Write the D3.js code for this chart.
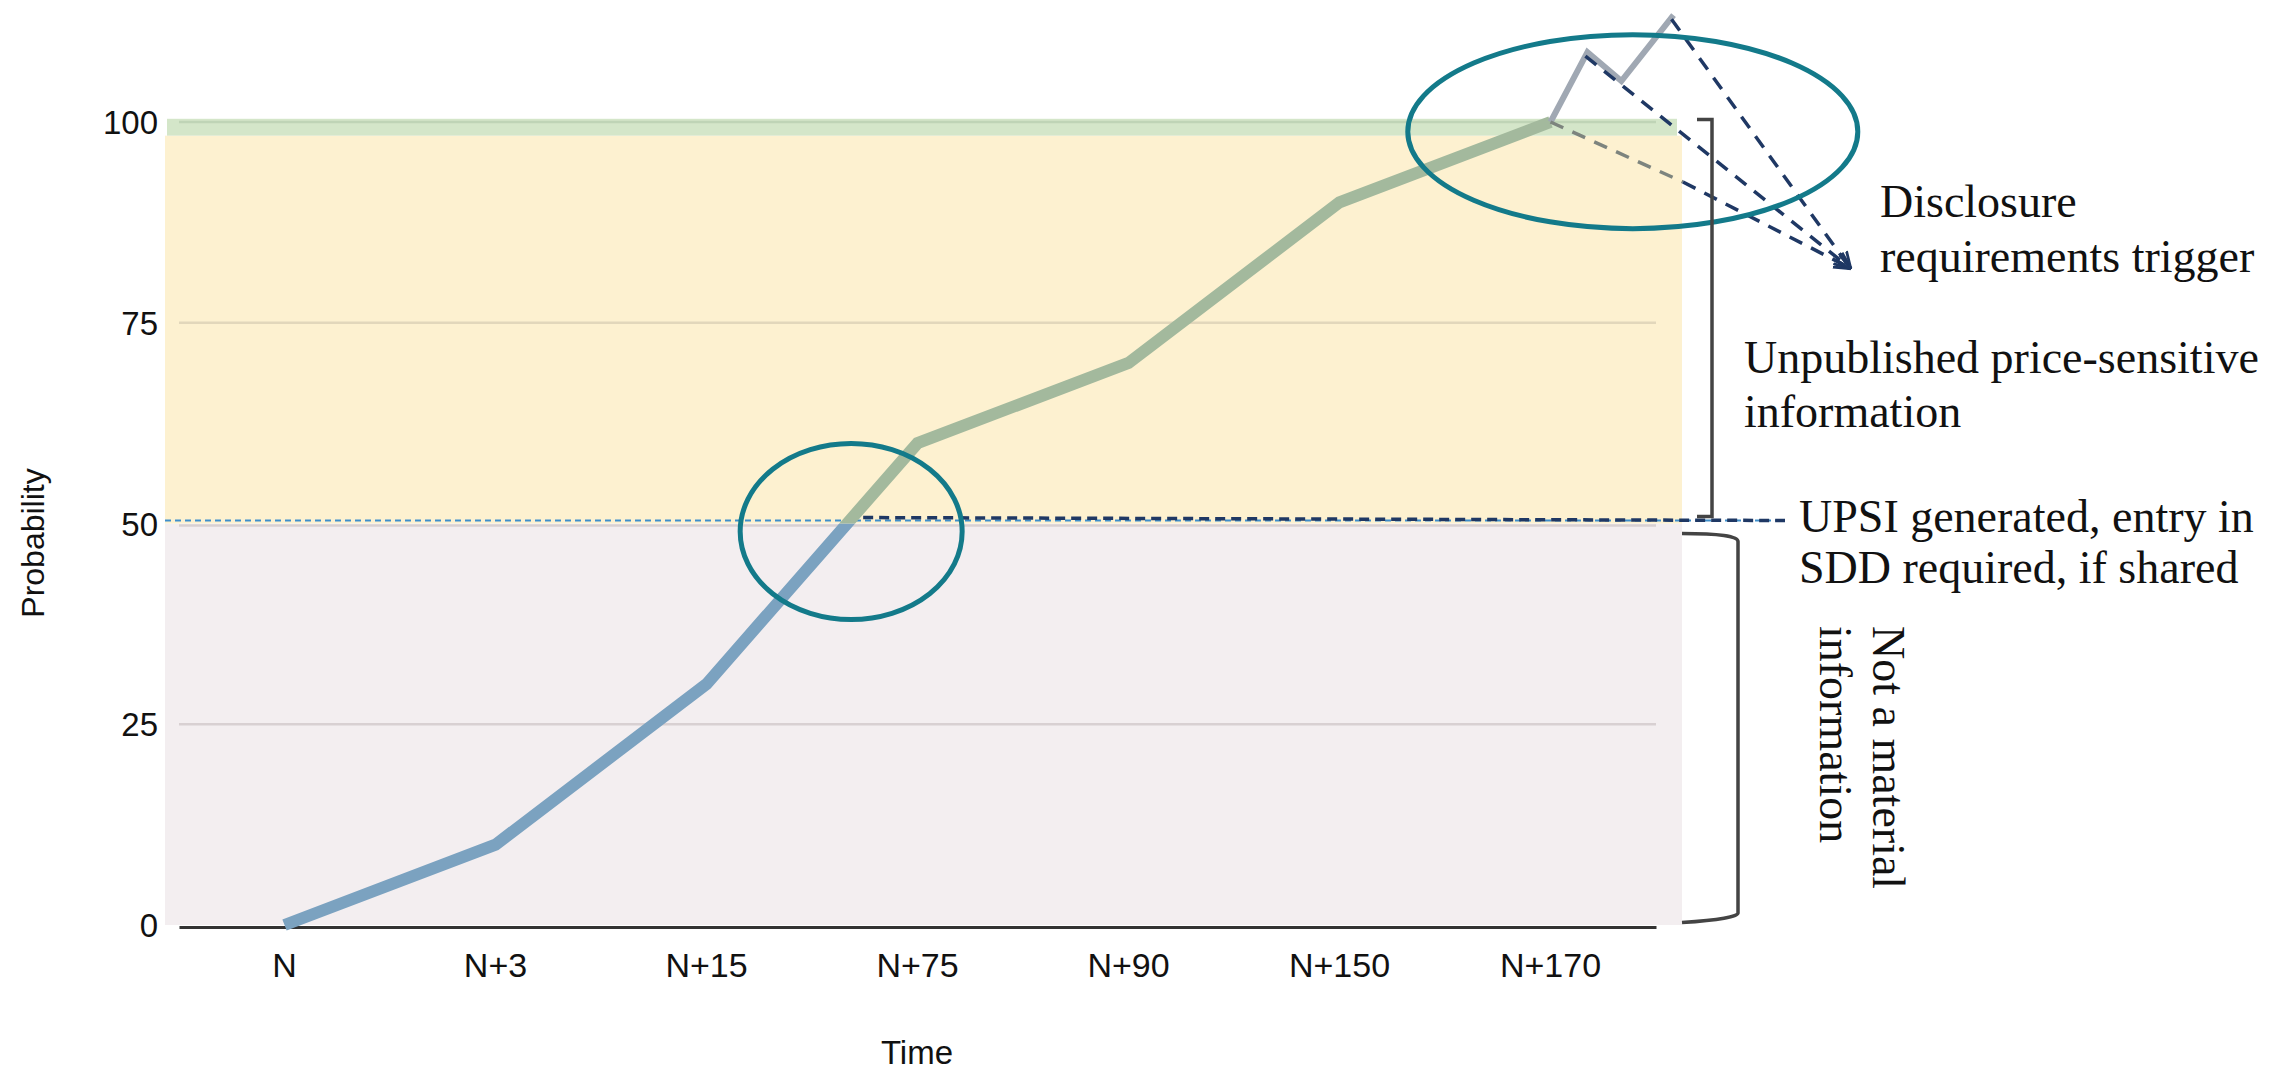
<!DOCTYPE html>
<html>
<head>
<meta charset="utf-8">
<script src="https://cdn.jsdelivr.net/npm/d3@7"></script>
<style>
  html, body { margin: 0; padding: 0; background: #ffffff; }
  svg { display: block; }
</style>
</head>
<body>
<svg id="chart" width="2284" height="1074"></svg>
<script>
// ---------------- data ----------------
const categories = ["N", "N+3", "N+15", "N+75", "N+90", "N+150", "N+170"];
const probability = [0, 10, 30, 60, 70, 90, 100];
const yTicks = [0, 25, 50, 75, 100];
const zoneBreaks = [0, 50, 98.3, 100.4];          // pink | yellow | green band
const upsiThreshold = 50;
// excursion after N+170 (offset in category steps, probability value)
const excursionOffset = [0, 0.175, 0.336, 0.583];
const excursionValue = [100, 108.7, 105.1, 113.3];
const xLabel = "Time";
const yLabel = "Probability";
const noteDisclosure = ["Disclosure", "requirements trigger"];
const noteUpsi = ["Unpublished price-sensitive", "information"];
const noteGenerated = ["UPSI generated, entry in", "SDD required, if shared"];
const noteNotMaterial = ["Not a material", "information"];

// ---------------- setup ----------------
const svg = d3.select("#chart");
const x = d3.scaleBand().domain(categories).range([179, 1656]).padding(0);
const y = d3.scaleLinear().domain([0, 100]).range([925, 122]);
const step = x.step();
const cx = c => x(c) + x.bandwidth() / 2;
const sans = "'Liberation Sans', Arial, sans-serif";
const serif = "'Liberation Serif', 'Times New Roman', serif";

const defs = svg.append("defs");
defs.append("clipPath").attr("id", "below")
  .append("rect").attr("x", 0).attr("y", y(upsiThreshold)).attr("width", 2284).attr("height", 1074);
defs.append("clipPath").attr("id", "above")
  .append("rect").attr("x", 0).attr("y", 0).attr("width", 2284).attr("height", y(upsiThreshold));
defs.append("marker").attr("id", "arrow").attr("viewBox", "0 0 10 10")
  .attr("refX", 9).attr("refY", 5).attr("markerWidth", 5).attr("markerHeight", 5)
  .attr("orient", "auto").attr("markerUnits", "strokeWidth")
  .append("path").attr("d", "M0,1 L10,5 L0,9").attr("fill", "none")
  .attr("stroke", "#1f3864").attr("stroke-width", 1.6);

// ---------------- background zones ----------------
const zoneColors = ["#f3eef0", "#fdf1d0", "#d4e6c9"];
const bgLeft = 165, bgRight = 1682;
svg.append("g").selectAll("rect")
  .data(d3.range(zoneBreaks.length - 1))
  .join("rect")
  .attr("x", i => i === 2 ? bgLeft + 2 : bgLeft)
  .attr("width", i => (i === 2 ? 1677 : bgRight) - (i === 2 ? bgLeft + 2 : bgLeft))
  .attr("y", i => y(zoneBreaks[i + 1]))
  .attr("height", i => y(zoneBreaks[i]) - y(zoneBreaks[i + 1]))
  .attr("fill", i => zoneColors[i]);

// ---------------- gridlines ----------------
const gridColor = v => v === 100 ? "#bfd4b6" : (v === 75 ? "#e2d7bb" : "#d8d0d2");
svg.append("g").selectAll("line")
  .data(yTicks.filter(v => v > 0))
  .join("line")
  .attr("x1", x.range()[0]).attr("x2", x.range()[1])
  .attr("y1", v => y(v) + (v === 50 ? 2 : 0)).attr("y2", v => y(v) + (v === 50 ? 2 : 0))
  .attr("stroke", gridColor).attr("stroke-width", 2.5);

// ---------------- axes ----------------
const yAxis = d3.axisLeft(y).tickValues(yTicks).tickSize(0).tickPadding(0);
const gy = svg.append("g").attr("transform", "translate(158,0)").call(yAxis);
gy.select(".domain").remove();
gy.selectAll("text").attr("font-family", sans).attr("font-size", 33).attr("fill", "#111")
  .attr("dy", "0.35em");

const xAxis = d3.axisBottom(x).tickSize(0).tickPadding(0);
const gx = svg.append("g").attr("transform", `translate(0,${y(0) + 2})`).call(xAxis);
gx.select(".domain").attr("stroke", "#333").attr("stroke-width", 3);
gx.selectAll("text").attr("font-family", sans).attr("font-size", 34).attr("fill", "#111")
  .attr("y", 50).attr("dy", 0);

svg.append("text").attr("x", 917).attr("y", 1064).attr("text-anchor", "middle")
  .attr("font-family", sans).attr("font-size", 33).attr("fill", "#111").text(xLabel);
svg.append("text").attr("transform", "translate(44,543) rotate(-90)").attr("text-anchor", "middle")
  .attr("font-family", sans).attr("font-size", 32).attr("fill", "#111").text(yLabel);

// ---------------- threshold dashed lines ----------------
const cross = (() => {
  const i = probability.findIndex(v => v >= upsiThreshold);
  const t = (upsiThreshold - probability[i - 1]) / (probability[i] - probability[i - 1]);
  return cx(categories[i - 1]) + t * (cx(categories[i]) - cx(categories[i - 1]));
})();
svg.append("line").attr("x1", bgLeft).attr("x2", 1785)
  .attr("y1", y(upsiThreshold) - 3).attr("y2", y(upsiThreshold) - 3)
  .attr("stroke", "#3f8fcb").attr("stroke-width", 2.2).attr("stroke-dasharray", "6 4");
svg.append("line").attr("x1", cross).attr("x2", 1785)
  .attr("y1", y(upsiThreshold) - 6).attr("y2", y(upsiThreshold) - 3)
  .attr("stroke", "#1f3864").attr("stroke-width", 3.5).attr("stroke-dasharray", "10 6");

// ---------------- main line ----------------
const pts = categories.map((c, i) => [cx(c), y(probability[i])]);
const line = d3.line();
svg.append("path").attr("d", line(pts)).attr("clip-path", "url(#below)")
  .attr("fill", "none").attr("stroke", "#7ba2c0").attr("stroke-width", 12)
  .attr("stroke-linejoin", "miter");
svg.append("path").attr("d", line(pts)).attr("clip-path", "url(#above)")
  .attr("fill", "none").attr("stroke", "#a3b99d").attr("stroke-width", 12)
  .attr("stroke-linejoin", "miter");

// ---------------- excursion beyond 100 ----------------
const last = categories[categories.length - 1];
const exPts = excursionOffset.map((o, i) => [cx(last) + o * step, y(excursionValue[i])]);
svg.append("path").attr("d", line(exPts)).attr("fill", "none")
  .attr("stroke", "#a0a8b3").attr("stroke-width", 6).attr("stroke-linejoin", "miter");

// ---------------- arrows to disclosure note ----------------
const tip = [1850, 268];
svg.append("line").attr("x1", exPts[0][0]).attr("y1", exPts[0][1])
  .attr("x2", 1683).attr("y2", 182)
  .attr("stroke", "#7d847e").attr("stroke-width", 3.5).attr("stroke-dasharray", "14 10");
svg.append("line").attr("x1", 1683).attr("y1", 182).attr("x2", tip[0]).attr("y2", tip[1])
  .attr("stroke", "#1f3864").attr("stroke-width", 3.5).attr("stroke-dasharray", "14 10")
  .attr("marker-end", "url(#arrow)");
[exPts[1], exPts[3]].forEach(p => {
  svg.append("line").attr("x1", p[0] - 2).attr("y1", p[1] + 4).attr("x2", tip[0]).attr("y2", tip[1])
    .attr("stroke", "#1f3864").attr("stroke-width", 3.5).attr("stroke-dasharray", "14 10")
    .attr("marker-end", "url(#arrow)");
});

// ---------------- ellipses ----------------
svg.append("ellipse").attr("cx", cx(last) + 0.39 * step).attr("cy", y(98.8))
  .attr("rx", 225).attr("ry", 97)
  .attr("fill", "none").attr("stroke", "#137a8a").attr("stroke-width", 5);
svg.append("ellipse").attr("cx", cross + 4).attr("cy", y(49))
  .attr("rx", 111).attr("ry", 88)
  .attr("fill", "none").attr("stroke", "#137a8a").attr("stroke-width", 5);

// ---------------- brackets ----------------
const bracket = svg.append("g").attr("fill", "none").attr("stroke", "#444").attr("stroke-width", 3.5);
bracket.append("path").attr("d",
  `M1697,${y(100.3)} H1712 V${y(upsiThreshold) - 7} H1697`);
bracket.append("path").attr("d",
  `M1682,${y(upsiThreshold) + 10} Q1738,${y(upsiThreshold) + 10} 1738,${y(upsiThreshold) + 18}` +
  ` V${y(1.5)} Q1738,${y(0.8)} 1682,${y(0.3)}`);

// ---------------- notes ----------------
function note(lines, x0, y0, lh) {
  const t = svg.append("text").attr("font-family", serif).attr("font-size", 46).attr("fill", "#111");
  lines.forEach((s, i) => t.append("tspan").attr("x", x0).attr("y", y0 + i * lh).text(s));
}
note(noteDisclosure, 1880, 217, 55);
note(noteUpsi, 1744, 373, 54);
note(noteGenerated, 1799, 532, 51);

const nm = svg.append("text").attr("transform", "translate(1873,626) rotate(90)")
  .attr("font-family", serif).attr("font-size", 46).attr("fill", "#111");
noteNotMaterial.forEach((s, i) => nm.append("tspan").attr("x", 0).attr("y", i * 53).text(s));
</script>
</body>
</html>
